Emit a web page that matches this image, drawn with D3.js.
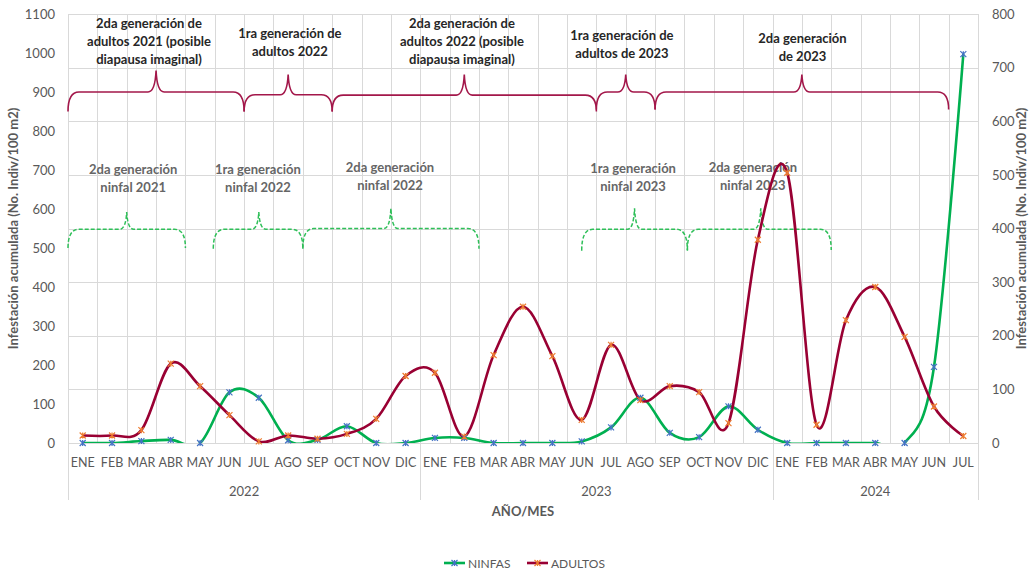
<!DOCTYPE html>
<html>
<head>
<meta charset="utf-8">
<script src="https://cdn.jsdelivr.net/npm/d3@7"></script>
<style>
  body { margin: 0; background: #fff; }
  text { font-family: Lato, "Open Sans", sans-serif; }
</style>
</head>
<body>
<div id="chart"></div>
<script>

// data
var month_names = ["ENE","FEB","MAR","ABR","MAY","JUN","JUL","AGO","SEP","OCT","NOV","DIC"];
var years = ["2022","2023","2024"];
var months_per_year = [12, 12, 7];

// NINFAS on the left axis, ADULTOS on the right axis
var ninfas = [0,0,5,8,0,130,116,7,8,43,0,0,
              13,13,0,0,0,4,40,116,26,15,94,34,
              0,0,0,0,0,195,997];
var adultos = [14,14,24,148,106,52,3,14,8,17,45,125,
               131,12,164,254,162,43,183,80,106,95,37,379,
               504,34,229,291,198,68,13];

var left_ticks = [0,100,200,300,400,500,600,700,800,900,1000,1100];
var right_ticks = [0,100,200,300,400,500,600,700,800];

// annotation braces (month boundaries, left axis values)
var adult_braces = [
  {b0: 0, b1: 6, tip: 3, base: 900, end: 850, top: 955},
  {b0: 6, b1: 9, tip: 7.5, base: 893, end: 850, top: 945},
  {b0: 9, b1: 18, tip: 13.5, base: 892, end: 850, top: 945},
  {b0: 18, b1: 20, tip: 19, base: 900, end: 855, top: 945},
  {b0: 20, b1: 30, tip: 25, base: 900, end: 855, top: 945}
];
var adult_labels = [
  {cx: 2.76, y: 1078, lines: ["2da generación de","adultos 2021 (posible","diapausa imaginal)"]},
  {cx: 7.56, y: 1051, lines: ["1ra generación de","adultos 2022"]},
  {cx: 13.42, y: 1078, lines: ["2da generación de","adultos 2022 (posible","diapausa imaginal)"]},
  {cx: 18.87, y: 1046, lines: ["1ra generación de","adultos de 2023"]},
  {cx: 25.02, y: 1038, lines: ["2da generación","de 2023"]}
];
var nymph_braces = [
  {b0: 0, b1: 4, tip: 2, base: 548, end: 500, top: 592},
  {b0: 4.95, b1: 8, tip: 6.5, base: 548, end: 498, top: 592},
  {b0: 8, b1: 14, tip: 11, base: 550, end: 498, top: 602},
  {b0: 17.5, b1: 21.1, tip: 19.3, base: 548, end: 493, top: 602},
  {b0: 21.1, b1: 26, tip: 23.6, base: 548, end: 495, top: 602}
];
var nymph_labels = [
  {cx: 2.22, y: 702, lines: ["2da generación","ninfal 2021"]},
  {cx: 6.47, y: 702, lines: ["1ra generación","ninfal 2022"]},
  {cx: 10.97, y: 708, lines: ["2da generación","ninfal 2022"]},
  {cx: 19.25, y: 705, lines: ["1ra generación","ninfal 2023"]},
  {cx: 23.33, y: 708, lines: ["2da generación","ninfal 2023"]}
];

var par = {w: 1030, h: 569, left: 68, right: 978, top: 14, bottom: 443};
var grid_color = "#d9d9d9";
var axis_text = "#595959";
var green = "#00B050";
var wine = "#990033";

// build category list
var categories = [];
years.forEach(function(y, i) {
  for (var m = 0; m < months_per_year[i]; m++) categories.push({year: y, month: month_names[m]});
});
var n = categories.length;

var svg = d3.select("#chart").append("svg")
  .attr("width", par.w).attr("height", par.h);

var x = d3.scaleBand().domain(d3.range(n)).range([par.left, par.right]);
var bw = x.bandwidth();
var xb = function(b) { return par.left + b * bw; };
var cx = function(i) { return x(i) + bw / 2; };
var yL = d3.scaleLinear().domain([0, 1100]).range([par.bottom, par.top]);
var yR = d3.scaleLinear().domain([0, 800]).range([par.bottom, par.top]);

// gridlines (follow the right axis)
svg.append("g").selectAll("line.h").data(right_ticks).enter().append("line")
  .attr("x1", par.left).attr("x2", par.right)
  .attr("y1", function(d) { return Math.round(yR(d)) + 0.5; })
  .attr("y2", function(d) { return Math.round(yR(d)) + 0.5; })
  .style("stroke", grid_color).style("stroke-width", 1);

svg.append("g").selectAll("line.v").data(d3.range(n + 1)).enter().append("line")
  .attr("x1", function(d) { return Math.round(xb(d)) + 0.5; })
  .attr("x2", function(d) { return Math.round(xb(d)) + 0.5; })
  .attr("y1", par.top).attr("y2", par.bottom)
  .style("stroke", grid_color).style("stroke-width", 1);

// year separators under the axis
var year_bounds = [0];
months_per_year.forEach(function(m, i) { year_bounds.push(year_bounds[i] + m); });
svg.append("g").selectAll("line").data(year_bounds).enter().append("line")
  .attr("x1", function(d) { return Math.round(xb(d)) + 0.5; })
  .attr("x2", function(d) { return Math.round(xb(d)) + 0.5; })
  .attr("y1", par.bottom).attr("y2", 500)
  .style("stroke", grid_color).style("stroke-width", 1);

// y axes
var axL = svg.append("g").attr("transform", "translate(" + (par.left - 13) + ",0)")
  .call(d3.axisLeft(yL).tickValues(left_ticks).tickFormat(d3.format("d")).tickSize(0));
var axR = svg.append("g").attr("transform", "translate(" + (par.right + 14) + ",0)")
  .call(d3.axisRight(yR).tickValues(right_ticks).tickFormat(d3.format("d")).tickSize(0));
[axL, axR].forEach(function(ax) {
  ax.select(".domain").remove();
  ax.selectAll("text").style("font-size", "13px").style("fill", axis_text)
    .style("font-family", "Lato, sans-serif").attr("x", 0);
});

// x axis labels
svg.append("g").selectAll("text").data(categories).enter().append("text")
  .attr("x", function(d, i) { return cx(i); }).attr("y", 462)
  .attr("text-anchor", "middle").attr("dominant-baseline", "central")
  .style("font-size", "12.5px").style("fill", axis_text)
  .text(function(d) { return d.month; });

svg.append("g").selectAll("text").data(years).enter().append("text")
  .attr("x", function(d, i) { return (xb(year_bounds[i]) + xb(year_bounds[i + 1])) / 2; })
  .attr("y", 491).attr("text-anchor", "middle").attr("dominant-baseline", "central")
  .style("font-size", "13px").style("fill", axis_text)
  .text(function(d) { return d; });

function place_text(txt, px, py, size, weight, color, rot) {
  var t = svg.append("text").attr("text-anchor", "middle").attr("dominant-baseline", "central")
    .style("font-size", size + "px").style("font-weight", weight).style("fill", color).text(txt);
  if (rot) t.attr("transform", "translate(" + px + "," + py + ") rotate(" + rot + ")");
  else t.attr("x", px).attr("y", py);
  return t;
}

place_text("Infestación acumulada (No. Indiv/100 m2)", 13, (par.top + par.bottom) / 2, 13, "bold", axis_text, -90);
place_text("Infestación acumulada (No. Indiv/100 m2)", 1021, (par.top + par.bottom) / 2, 13, "bold", axis_text, -90);
place_text("AÑO/MES", (par.left + par.right) / 2, 511, 13, "bold", axis_text);

// braces
function brace_path(d, r, c) {
  var x0 = xb(d.b0), x1 = xb(d.b1), xm = xb(d.tip);
  var yb = yL(d.base), ye = yL(d.end), yt = yL(d.top);
  return "M" + x0 + "," + ye +
    "Q" + x0 + "," + yb + " " + (x0 + r) + "," + yb +
    "L" + (xm - c) + "," + yb +
    "Q" + (xm - 1) + "," + yb + " " + xm + "," + yt +
    "Q" + (xm + 1) + "," + yb + " " + (xm + c) + "," + yb +
    "L" + (x1 - r) + "," + yb +
    "Q" + x1 + "," + yb + " " + x1 + "," + ye;
}

svg.append("g").selectAll("path").data(adult_braces).enter().append("path")
  .attr("d", function(d) { return brace_path(d, 11, 8); })
  .style("fill", "none").style("stroke", "#A3174A").style("stroke-width", 1.6);

svg.append("g").selectAll("path").data(nymph_braces).enter().append("path")
  .attr("d", function(d) { return brace_path(d, 11, 7); })
  .style("fill", "none").style("stroke", "#2EBF58").style("stroke-width", 1.5)
  .style("stroke-dasharray", "4,2");

adult_labels.forEach(function(l) {
  l.lines.forEach(function(s, k) {
    place_text(s, xb(l.cx), yL(l.y) + k * 18, 13, "bold", "#262626");
  });
});
nymph_labels.forEach(function(l) {
  l.lines.forEach(function(s, k) {
    place_text(s, xb(l.cx), yL(l.y) + k * 18, 13, "bold", "#666666");
  });
});

// series lines (clipped at the plot area like Excel)
svg.append("clipPath").attr("id", "plot-clip").append("rect")
  .attr("x", par.left).attr("y", par.top)
  .attr("width", par.right - par.left).attr("height", par.bottom - par.top);

var line_nin = d3.line().x(function(d, i) { return cx(i); }).y(function(d) { return yL(d); })
  .curve(d3.curveCardinal.tension(0));
var line_adu = d3.line().x(function(d, i) { return cx(i); }).y(function(d) { return yR(d); })
  .curve(d3.curveCardinal.tension(0));

svg.append("path").datum(ninfas).attr("d", line_nin).attr("clip-path", "url(#plot-clip)")
  .style("fill", "none").style("stroke", green).style("stroke-width", 2.6);
svg.append("path").datum(adultos).attr("d", line_adu).attr("clip-path", "url(#plot-clip)")
  .style("fill", "none").style("stroke", wine).style("stroke-width", 2.6);

function star(px, py, s) {
  return "M" + (px - s) + "," + (py - s) + "L" + (px + s) + "," + (py + s) +
    "M" + (px - s) + "," + (py + s) + "L" + (px + s) + "," + (py - s) +
    "M" + px + "," + (py - s) + "L" + px + "," + (py + s);
}

svg.append("g").selectAll("path").data(ninfas).enter().append("path")
  .attr("d", function(d, i) { return star(cx(i), yL(d), 3); })
  .style("stroke", "#4472C4").style("stroke-width", 1.2).style("fill", "none");
svg.append("g").selectAll("path").data(adultos).enter().append("path")
  .attr("d", function(d, i) { return star(cx(i), yR(d), 3); })
  .style("stroke", "#ED7D31").style("stroke-width", 1.2).style("fill", "none");

// legend
var legend = [
  {name: "NINFAS", line: green, mark: "#4472C4", x: 444},
  {name: "ADULTOS", line: wine, mark: "#ED7D31", x: 527}
];
var ly = 563;
legend.forEach(function(l) {
  svg.append("line").attr("x1", l.x).attr("x2", l.x + 21).attr("y1", ly).attr("y2", ly)
    .style("stroke", l.line).style("stroke-width", 2.6);
  svg.append("path").attr("d", star(l.x + 10.5, ly, 3))
    .style("stroke", l.mark).style("stroke-width", 1.2).style("fill", "none");
  svg.append("text").attr("x", l.x + 24).attr("y", ly).attr("dominant-baseline", "central")
    .style("font-size", "12px").style("fill", axis_text).text(l.name);
});

</script>
</body>
</html>
